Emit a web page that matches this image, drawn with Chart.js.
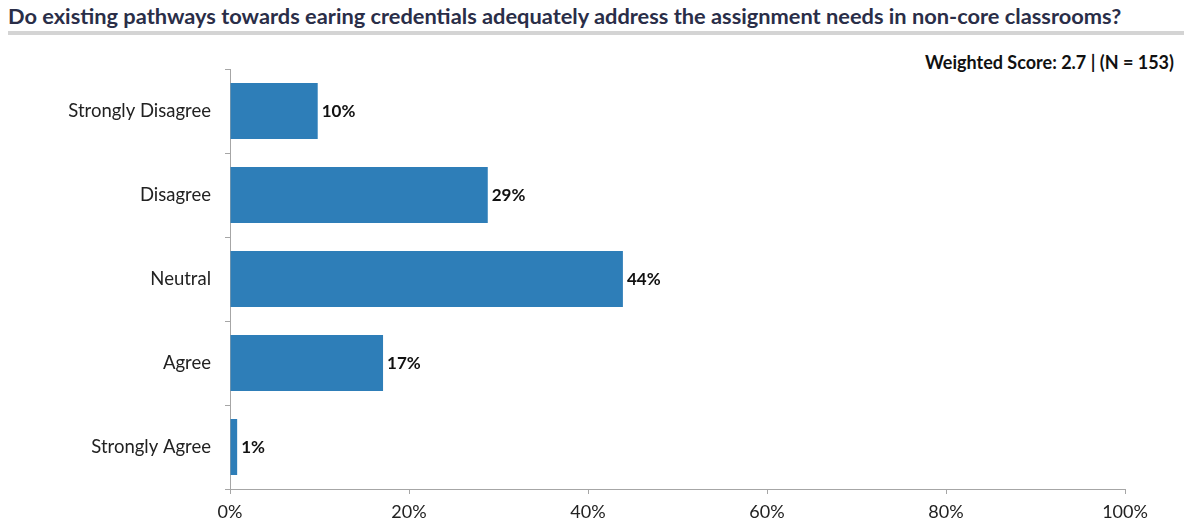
<!DOCTYPE html>
<html>
<head>
<meta charset="utf-8">
<script src="https://cdn.jsdelivr.net/npm/chart.js@4/dist/chart.umd.min.js"></script>
<style>
  html, body { margin: 0; padding: 0; background: #fff; }
  body { width: 1184px; height: 529px; position: relative; overflow: hidden; font-family: Lato, "Open Sans", sans-serif; }
  #title { position: absolute; left: 8px; top: 2px; font-size: 21.8px; font-weight: bold; color: #2a2e48; white-space: nowrap; }
  #rule { position: absolute; left: 8px; right: 0; top: 31px; height: 4px; background: #d4d4d4; }
  #score { position: absolute; right: 10px; top: 51px; font-size: 18px; font-weight: bold; color: #111; }
  #wrap { position: absolute; left: 0; top: 0; width: 1184px; height: 529px; }
</style>
</head>
<body>
<div id="title">Do existing pathways towards earing credentials adequately address the assignment needs in non-core classrooms?</div>
<div id="rule"></div>
<div id="score">Weighted Score: 2.7 | (N = 153)</div>
<div id="wrap"><canvas id="chart"></canvas></div>
<script>
const categories = ['Strongly Disagree', 'Disagree', 'Neutral', 'Agree', 'Strongly Agree'];
const shares = [9.8, 28.8, 43.9, 17.1, 0.8];
const shareLabels = ['10%', '29%', '44%', '17%', '1%'];
const xTicks = [0, 20, 40, 60, 80, 100];

const barLabels = {
    id: 'barLabels',
    afterDatasetsDraw(chart) {
        const ctx = chart.ctx;
        const meta = chart.getDatasetMeta(0);
        ctx.save();
        ctx.font = 'bold 17px Lato, "Open Sans", sans-serif';
        ctx.fillStyle = '#111';
        ctx.textAlign = 'left';
        ctx.textBaseline = 'middle';
        meta.data.forEach((bar, i) => {
            ctx.fillText(shareLabels[i], bar.x + 4, bar.y + 1);
        });
        ctx.restore();
    }
};

const ctx = document.getElementById('chart').getContext('2d');
new Chart(ctx, {
    type: 'bar',
    data: {
        labels: categories,
        datasets: [{
            data: shares,
            backgroundColor: '#2e7eb8',
            borderWidth: 0,
            categoryPercentage: 1,
            barPercentage: 0.667
        }]
    },
    options: {
        indexAxis: 'y',
        responsive: true,
        maintainAspectRatio: false,
        animation: false,
        layout: { padding: { top: 69, right: 59, bottom: 0, left: 0 } },
        plugins: {
            legend: { display: false },
            tooltip: { enabled: false }
        },
        scales: {
            x: {
                min: 0,
                max: 100,
                afterBuildTicks: axis => { axis.ticks = xTicks.map(v => ({ value: v })); },
                afterFit: axis => { axis.height = 40; },
                border: { color: '#a6a6a6', width: 1 },
                grid: { drawOnChartArea: false, tickLength: 5, color: '#a6a6a6' },
                ticks: {
                    callback: v => v + '%',
                    color: '#222',
                    font: { family: 'Lato, "Open Sans", sans-serif', size: 18 },
                    padding: 7,
                    maxRotation: 0
                }
            },
            y: {
                afterFit: axis => { axis.width = 230; },
                border: { color: '#a6a6a6', width: 1 },
                grid: { drawOnChartArea: false, tickLength: 5, color: '#a6a6a6', offset: true },
                ticks: {
                    color: '#222',
                    font: { family: 'Lato, "Open Sans", sans-serif', size: 18.5 },
                    padding: 14
                }
            }
        }
    },
    plugins: [barLabels]
});
</script>
</body>
</html>
